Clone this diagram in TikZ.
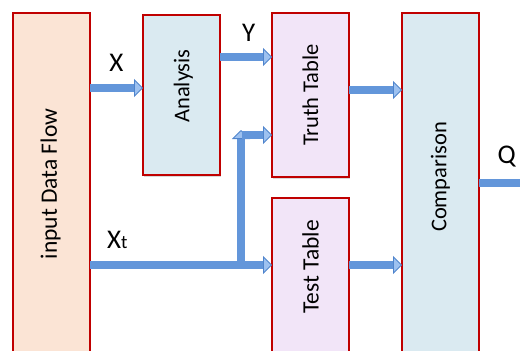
\documentclass[tikz,border=0pt]{standalone}
\usepackage{fontspec}
\setmainfont{Carlito}
\usetikzlibrary{positioning,arrows.meta,shadows}

\definecolor{boxred}{HTML}{C00000}
\definecolor{peach}{HTML}{FBE4D5}
\definecolor{paleblue}{HTML}{DAEAF1}
\definecolor{lavender}{HTML}{F2E5F8}
\definecolor{flowblue}{HTML}{6396DA}
\definecolor{flowlight}{HTML}{9DC1F0}
\definecolor{flowedge}{HTML}{4F84CC}

\tikzset{
	block/.style={draw=boxred, line width=1.8pt, minimum width=77pt, inner sep=0pt, outer sep=0pt,
		drop shadow={shadow xshift=1.2pt, shadow yshift=-1.5pt, opacity=0.3}},
	blocklbl/.style={rotate=90, font=\fontsize{22.5}{27}\selectfont},
	varlbl/.style={font=\fontsize{27}{30}\selectfont, inner sep=0pt},
	flow/.style={draw=flowblue, line width=8pt,
		-{Triangle[length=9pt, width=18pt, line width=0.8pt, color=flowedge, fill=flowlight]}},
}

\begin{document}
\begin{tikzpicture}[x=1pt, y=-1pt]
	\useasboundingbox (0,0) rectangle (520,351);
	\clip (0,0) rectangle (520,351);

	\node[block, fill=peach, minimum height=400pt, anchor=north west] (input) at (13,13) {};
	\node[block, fill=paleblue, minimum height=160pt, right=53pt of input.north east, anchor=north west, yshift=-2pt] (analysis) {};
	\node[block, fill=lavender, minimum height=164pt, right=52pt of analysis.north east, anchor=north west, yshift=2pt] (truth) {};
	\node[block, fill=lavender, minimum height=250pt, below=21pt of truth.south, anchor=north] (test) {};
	\node[block, fill=paleblue, minimum height=400pt, right=53pt of truth.north east, anchor=north west] (comparison) {};

	\node[blocklbl, font=\fontsize{23.5}{28}\selectfont] (inputlbl) at ([xshift=-1pt, yshift=-171pt]input.north) {input Data Flow};
	\node[blocklbl] (analysislbl) at ([xshift=2pt, yshift=9pt]analysis.center) {Analysis};
	\node[blocklbl] (truthlbl) at (truth.center) {Truth Table};
	\node[blocklbl, font=\fontsize{23.5}{28}\selectfont] (testlbl) at ([yshift=-69pt]test.north) {Test Table};
	\node[blocklbl] (comparisonlbl) at ([yshift=-164pt]comparison.north) {Comparison};

	\coordinate (xin) at ([yshift=7pt]analysis.west);
	\coordinate (yin) at ([yshift=38pt]truth.west);
	\coordinate (tin) at ([yshift=-40pt]truth.west);
	\coordinate (tout) at ([yshift=5pt]truth.east);
	\coordinate (xtin) at ([yshift=-67pt]test.north west);
	\coordinate (branch) at ([xshift=-31pt]xtin);
	\coordinate (qout) at (526,183);

	\draw[flow] (input.east |- xin) -- node[varlbl, above=13pt] (xlbl) {X} (xin);
	\draw[flow] (analysis.east |- yin) -- node[varlbl, pos=0.55, above=12pt] (ylbl) {Y} (yin);
	\draw[flow] (branch) -- ([yshift=5pt]branch |- tin);
	\draw[flow] ([xshift=1pt]branch |- tin) -- (tin);
	\draw[flow] (input.east |- xtin) -- node[varlbl, pos=0.15, above=12pt] (xtlbl) {X{\fontsize{19}{19}\selectfont t}} (xtin);
	\draw[flow] (tout) -- (comparison.west |- tout);
	\draw[flow] (test.east |- xtin) -- (comparison.west |- xtin);
	\draw[flow, -] (comparison.east |- qout) -- node[varlbl, pos=0.59, above=12pt] (qlbl) {Q} (qout);
\end{tikzpicture}
\end{document}
